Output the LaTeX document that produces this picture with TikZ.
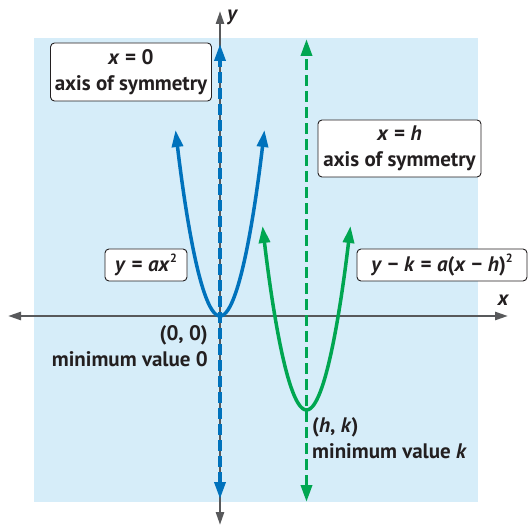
\documentclass[tikz,border=0pt]{standalone}
\usepackage{fontspec}
\setmainfont{PT Sans}
\usetikzlibrary{arrows.meta}
\definecolor{bgblue}{HTML}{D6EDF9}
\definecolor{curveblue}{HTML}{0072BC}
\definecolor{curvegreen}{HTML}{00A651}
\definecolor{axisgray}{HTML}{58595B}
\definecolor{txt}{HTML}{231F20}
\newcommand{\opsp}{\hspace{5.5pt}}
\newcommand{\sqr}{\raisebox{0.8ex}{\fontsize{12}{12}\selectfont 2}}
\begin{document}
\begin{tikzpicture}[x=1pt,y=-1pt,
  lbl/.style={font=\fontsize{21}{26}\selectfont\bfseries, text=txt, inner sep=0pt},
  box/.style={lbl, draw=txt, fill=white, rounded corners=4pt, line width=0.9pt, align=center},
  axisline/.style={axisgray, line width=2.5pt, {Triangle[length=13pt,width=8pt]}-{Triangle[length=13pt,width=8pt]}},
  symline/.style={line width=3.5pt, dash pattern=on 11pt off 5pt, {Triangle[length=17pt,width=11pt]}-{Triangle[length=17pt,width=11pt]}},
  parab/.style={line width=3.5pt, {Triangle[length=17pt,width=11pt]}-{Triangle[length=17pt,width=11pt]}}
]
\useasboundingbox (0,0) rectangle (530,526);
\fill[bgblue] (34,38) rectangle (478,502);

% axes
\coordinate (yt) at (220,11);
\coordinate (yb) at (220,525);
\coordinate (xl) at (8,316);
\coordinate (xr) at (508,316);
\draw[axisline] (xl) -- (xr);
\draw[axisline] (yb) -- (yt);
\node[lbl, font=\fontsize{21}{22}\selectfont\bfseries\itshape] (ylab) at (232,17) {y};
\node[lbl, font=\fontsize{21}{22}\selectfont\bfseries\itshape] (xlab) at (503,300) {x};

% axes of symmetry
\coordinate (bt) at (220,44);
\coordinate (bb) at (220,499);
\coordinate (gt) at (306.5,39);
\coordinate (gb) at (306.5,502);
\draw[symline, curveblue] (bb) -- (bt);
\draw[symline, curvegreen] (gb) -- (gt);

% parabolas
\coordinate (b1) at (175.5,130);
\coordinate (bv) at (220,316);
\coordinate (b2) at (264.5,130);
\draw[parab, curveblue] (b1) parabola bend (bv) (b2);
\coordinate (g1) at (262.5,226);
\coordinate (gv) at (306.5,410);
\coordinate (g2) at (350.5,226);
\draw[parab, curvegreen] (g1) parabola bend (gv) (g2);

% boxes
\node[box, minimum width=161pt, minimum height=58pt] (ax0) at (131,72)
  {\textit{x}\opsp=\opsp0\\axis of symmetry};
\node[box, minimum width=163pt, minimum height=57pt] (axh) at (399.5,148.5)
  {\textit{x}\opsp=\opsp\textit{h}\\axis of symmetry};
\node[box, minimum width=82pt, minimum height=32pt] (eq1) at (146,265)
  {\textit{y}\opsp=\opsp\textit{ax}\sqr};
\node[box, minimum width=170pt, minimum height=32pt] (eq2) at (442,265)
  {\textit{y}\opsp−\opsp\textit{k}\opsp=\opsp\textit{a}(\textit{x}\opsp−\opsp\textit{h})\sqr};

% vertex labels
\node[lbl, anchor=east, align=right] (v0) at (208,346)
  {(0, 0)\\minimum value 0};
\node[lbl, anchor=west, align=left] (vh) at (312,438)
  {(\textit{h}, \textit{k})\\minimum value \textit{k}};
\end{tikzpicture}
\end{document}
